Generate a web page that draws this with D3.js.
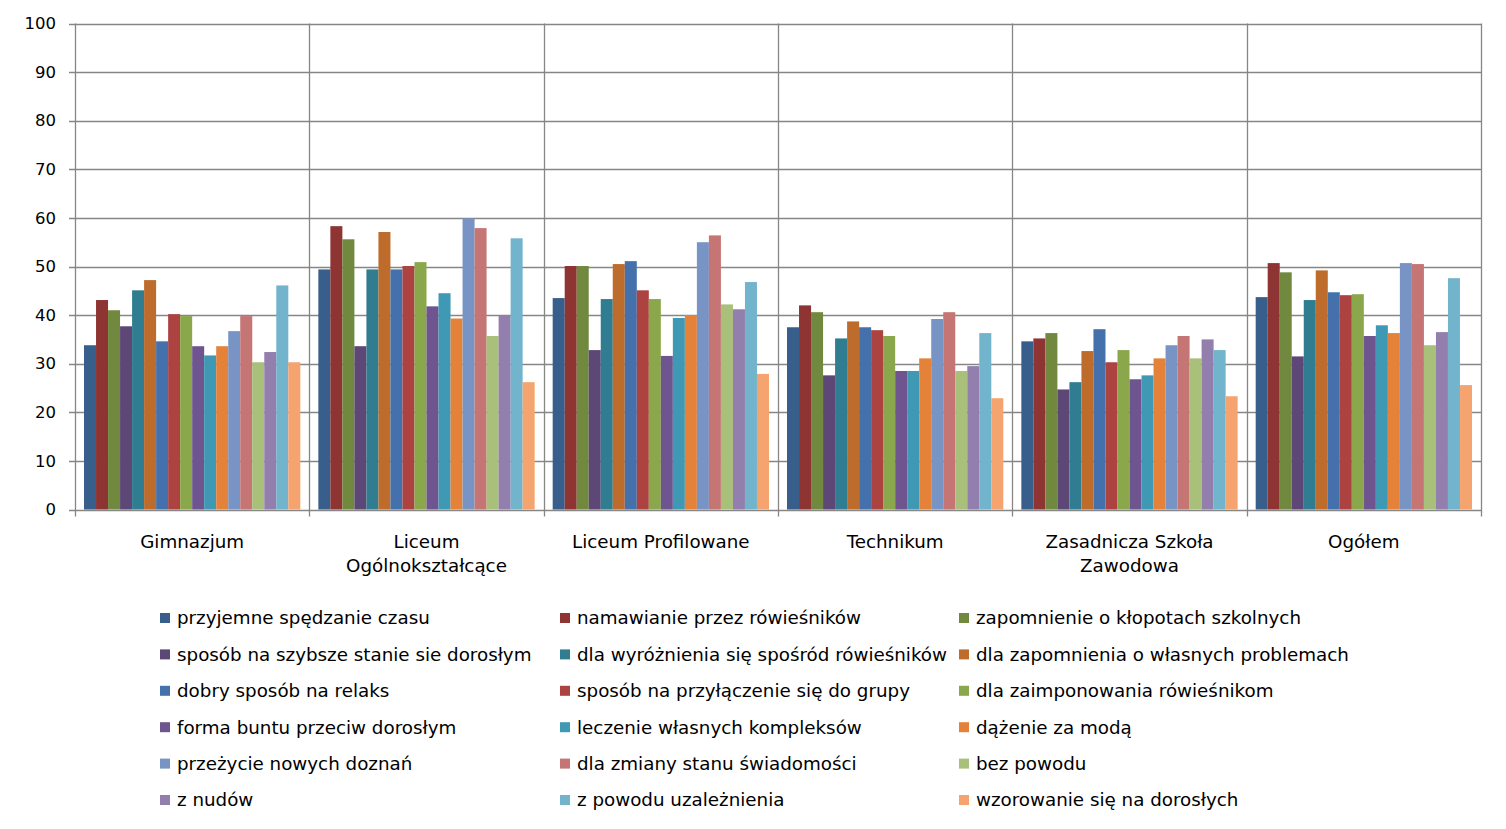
<!DOCTYPE html>
<html><head><meta charset="utf-8">
<script src="https://cdn.jsdelivr.net/npm/d3@7"></script>
<style>body{margin:0;background:#fff;} svg{display:block;} text{font-family:"DejaVu Sans",sans-serif;fill:#000;}</style>
</head><body>
<script>
const categories = [["Gimnazjum"],["Liceum","Ogólnokształcące"],["Liceum Profilowane"],["Technikum"],["Zasadnicza Szkoła","Zawodowa"],["Ogółem"]];
const seriesNames = ["przyjemne spędzanie czasu","namawianie przez rówieśników","zapomnienie o kłopotach szkolnych","sposób na szybsze stanie sie dorosłym","dla wyróżnienia się spośród rówieśników","dla zapomnienia o własnych problemach","dobry sposób na relaks","sposób na przyłączenie się do grupy","dla zaimponowania rówieśnikom","forma buntu przeciw dorosłym","leczenie własnych kompleksów","dążenie za modą","przeżycie nowych doznań","dla zmiany stanu świadomości","bez powodu","z nudów","z powodu uzależnienia","wzorowanie się na dorosłych"];
const colors = ["#385E8C","#8E3432","#71893F","#5C4776","#307D91","#BD6C2C","#4471AC","#AC4341","#8AA84B","#6F5590","#3F99B4","#E5823A","#7894C4","#C57574","#A8C07A","#927FAD","#72B4CC","#F5A46F"];
// values[series][category]
const values = [
 [33.8,49.4,43.5,37.5,34.6,43.7],
 [43.1,58.3,50.1,42.0,35.2,50.7],
 [41.0,55.6,50.1,40.6,36.3,48.8],
 [37.7,33.6,32.8,27.6,24.7,31.5],
 [45.1,49.4,43.3,35.2,26.2,43.1],
 [47.2,57.1,50.5,38.7,32.6,49.2],
 [34.6,49.4,51.1,37.5,37.1,44.7],
 [40.2,50.1,45.1,36.9,30.3,44.1],
 [39.8,50.9,43.3,35.7,32.8,44.3],
 [33.6,41.8,31.6,28.5,26.8,35.7],
 [31.7,44.5,39.4,28.5,27.6,37.9],
 [33.6,39.3,40.0,31.1,31.1,36.3],
 [36.7,59.9,55.0,39.2,33.8,50.7],
 [39.8,57.9,56.4,40.6,35.7,50.5],
 [30.3,35.7,42.2,28.5,31.1,33.8],
 [32.4,39.9,41.2,29.5,35.0,36.5],
 [46.1,55.8,46.8,36.3,32.8,47.6],
 [30.3,26.2,27.9,22.9,23.3,25.6]
];
const yTicks = [0,10,20,30,40,50,60,70,80,90,100];

const W=1506,H=829;
const L=75,R=1481,T=23.5,B=509.5;
const svg=d3.select("body").append("svg").attr("width",W).attr("height",H);
const x0=d3.scaleBand().domain(d3.range(categories.length)).range([L,R]).padding(0);
const y=d3.scaleLinear().domain([0,100]).range([B,T]);
const x1=d3.scaleBand().domain(d3.range(seriesNames.length)).range([0,x0.bandwidth()]).paddingInner(0).paddingOuter(0.75);
const grid="#868686";
svg.append("g").selectAll("line").data(yTicks).join("line")
 .attr("x1",L-6).attr("x2",R).attr("y1",d=>Math.round(y(d))+0.5).attr("y2",d=>Math.round(y(d))+0.5)
 .attr("stroke",grid).attr("stroke-width",1.3);
const bounds=d3.range(categories.length+1).map(i=>i<categories.length?x0(i):R);
svg.append("g").selectAll("line").data(bounds).join("line")
 .attr("x1",d=>Math.round(d)+0.5).attr("x2",d=>Math.round(d)+0.5).attr("y1",T).attr("y2",B+7)
 .attr("stroke",grid).attr("stroke-width",1.3);
const g=svg.append("g");
values.forEach((vals,s)=>{
 g.append("g").selectAll("rect").data(vals).join("rect")
  .attr("x",(d,c)=>x0(c)+x1(s)).attr("width",x1.bandwidth())
  .attr("y",d=>y(d)).attr("height",d=>y(0)-y(d)).attr("fill",colors[s]);
});
svg.append("g").selectAll("text").data(yTicks).join("text")
 .attr("x",56).attr("y",d=>y(d)).attr("dy","0.35em").attr("text-anchor","end")
 .attr("font-size",16.5).text(d=>d);
categories.forEach((lines,c)=>{
 const t=svg.append("text").attr("x",x0(c)+x0.bandwidth()/2).attr("y",548).attr("text-anchor","middle").attr("font-size",18.3);
 lines.forEach((ln,i)=>t.append("tspan").attr("x",x0(c)+x0.bandwidth()/2).attr("dy",i?24:0).text(ln));
});
const colX=[160,560,959], rowY=d3.range(6).map(i=>618+i*36.4);
seriesNames.forEach((n,i)=>{
 const cx=colX[i%3], cy=rowY[Math.floor(i/3)];
 svg.append("rect").attr("x",cx).attr("y",cy-5).attr("width",10).attr("height",10).attr("fill",colors[i]);
 svg.append("text").attr("x",cx+17).attr("y",cy).attr("dy","0.35em").attr("font-size",18.3).text(n);
});
</script>
</body></html>
